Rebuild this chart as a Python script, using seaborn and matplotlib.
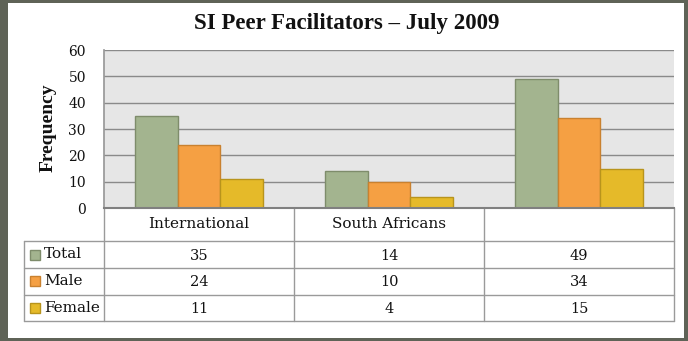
import matplotlib
matplotlib.use("Agg")
import matplotlib.pyplot as plt
import seaborn as sns
import pandas as pd
from matplotlib.patches import Rectangle
from matplotlib.lines import Line2D

# ---- data ----
categories = ["International", "South Africans", ""]
series = ["Total", "Male", "Female"]
total = [35, 14, 49]
male = [24, 10, 34]
female = [11, 4, 15]
yticks = [0, 10, 20, 30, 40, 50, 60]
title = "SI Peer Facilitators \u2013 July 2009"
ylabel = "Frequency"

colors = {"Total": "#A3B48F", "Male": "#F5A043", "Female": "#E5BA29"}
edges = {"Total": "#7E8C6B", "Male": "#C9812F", "Female": "#B8941C"}

values = {"Total": total, "Male": male, "Female": female}
rows = []
for s in series:
    for c, v in zip(categories, values[s]):
        rows.append({"cat": c, "series": s, "value": v})
df = pd.DataFrame(rows)

sns.set_theme(style="white")
FONT = ["DejaVu Serif"]
TFONT = ["Liberation Serif", "DejaVu Serif"]
plt.rcParams["font.family"] = FONT

W, H = 688, 341
fig = plt.figure(figsize=(W / 100, H / 100), dpi=100)
fig.patch.set_facecolor("#5F6357")

# overlay axes in pixel coordinates
ov = fig.add_axes([0, 0, 1, 1])
ov.set_xlim(0, W)
ov.set_ylim(H, 0)
ov.axis("off")
ov.add_patch(Rectangle((8, 3), 676, 335, facecolor="white", edgecolor="none", zorder=0))

# main plot axes
L, R, T, B = 104, 674, 50, 208
ax = fig.add_axes([L / W, 1 - B / H, (R - L) / W, (B - T) / H])
ax.set_zorder(2)
sns.barplot(data=df, x="cat", y="value", hue="series", order=categories,
            hue_order=series, palette=colors, width=0.67, ax=ax,
            legend=False, saturation=1)
for cont, s in zip(ax.containers, series):
    for p in cont:
        p.set_edgecolor(edges[s])
        p.set_linewidth(1.0)
ax.set_facecolor("#E6E6E6")
ax.set_xlim(-0.5, len(categories) - 0.5)
ax.set_ylim(0, 60)
ax.set_yticks(yticks)
ax.set_yticklabels([str(t) for t in yticks], fontsize=10, color="#111111")
ax.tick_params(axis="y", length=0, pad=13)
ax.set_xticks([])
ax.set_xlabel("")
ax.set_ylabel("")
ax.yaxis.grid(True, color="#8A8A8A", linewidth=1)
ax.set_axisbelow(True)
for side in ["top", "right"]:
    ax.spines[side].set_visible(False)
ax.spines["left"].set_color("#999999")
ax.spines["bottom"].set_color("#808080")
ax.spines["bottom"].set_linewidth(1.5)

ov.text(W / 2 + 3, 23, title, ha="center", va="center", fontsize=16.5,
        fontweight="bold", color="#111111", family=TFONT)
ov.text(48, 128, ylabel, ha="center", va="center", rotation=90, fontsize=14,
        fontweight="bold", color="#111111", family=TFONT)

# data table
lc = "#9A9A9A"
colw = (R - L) / len(categories)
xs = [L + i * colw for i in range(len(categories) + 1)]
header_top, header_bot = B, 241
row_y = [241, 268, 294.5, 321]
TL = 24

def hline(x0, x1, y):
    ov.add_line(Line2D([x0, x1], [y, y], color=lc, lw=1))

def vline(x, y0, y1):
    ov.add_line(Line2D([x, x], [y0, y1], color=lc, lw=1))

for x in xs:
    vline(x, header_top, row_y[-1])
vline(TL, row_y[0], row_y[-1])
for y in row_y:
    hline(TL, R, y)

for i, c in enumerate(categories):
    ov.text(xs[i] + colw / 2, (header_top + header_bot) / 2, c, ha="center",
            va="center", fontsize=11, color="#111111")

for r, s in enumerate(series):
    yc = (row_y[r] + row_y[r + 1]) / 2
    ov.add_patch(Rectangle((30, yc - 5), 10, 10, facecolor=colors[s],
                           edgecolor=edges[s], lw=1))
    ov.text(44, yc, s, ha="left", va="center", fontsize=11, color="#111111")
    for i, v in enumerate(values[s]):
        ov.text(xs[i] + colw / 2, yc + 1, str(v), ha="center", va="center",
                fontsize=10.5, color="#111111")

fig.savefig("out.png", dpi=100, facecolor=fig.get_facecolor())
